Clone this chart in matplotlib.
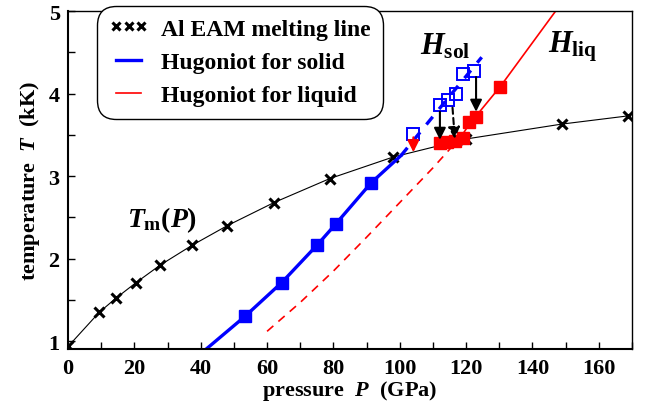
import numpy as np
import matplotlib
matplotlib.use('Agg')
import matplotlib.pyplot as plt
from matplotlib.lines import Line2D
from matplotlib.ticker import MultipleLocator

plt.rcParams['font.family'] = 'Liberation Serif'
plt.rcParams['font.weight'] = 'bold'
plt.rcParams['axes.labelweight'] = 'bold'
plt.rcParams['mathtext.fontset'] = 'custom'
plt.rcParams['mathtext.rm'] = 'Liberation Serif:bold'
plt.rcParams['mathtext.it'] = 'Liberation Serif:bold:italic'
plt.rcParams['mathtext.bf'] = 'Liberation Serif:bold'

# melting line (EAM), P in GPa, T in kK
melt_P = [0.1, 9.4, 14.4, 20.5, 27.7, 37.3, 48.0, 62.1, 78.9, 97.9, 120.0, 148.8, 168.9]
melt_T = [0.94, 1.35, 1.52, 1.71, 1.92, 2.16, 2.40, 2.68, 2.97, 3.23, 3.45, 3.63, 3.73]

# Hugoniot for solid
sol_line_P = [41.5, 53.3, 64.4, 75.2, 80.7, 91.4, 100.4]
sol_line_T = [0.90, 1.30, 1.71, 2.17, 2.42, 2.92, 3.25]
sol_dash_P = [100.4, 112.0, 124.7]
sol_dash_T = [3.25, 3.82, 4.44]
sol_pts_P = [53.3, 64.4, 75.2, 80.7, 91.4]
sol_pts_T = [1.30, 1.71, 2.17, 2.42, 2.92]
sol_open_P = [104.1, 112.1, 114.6, 117.1, 119.1, 122.4]
sol_open_T = [3.51, 3.86, 3.92, 4.00, 4.24, 4.27]

# Hugoniot for liquid
liq_dash_P = [60, 70, 80, 90, 100, 110, 118.5]
liq_dash_T = [1.12, 1.47, 1.85, 2.26, 2.68, 3.10, 3.48]
liq_line_P = [118.5, 121.0, 130.4, 147.0]
liq_line_T = [3.48, 3.63, 4.09, 5.0]
liq_pts_P = [112.1, 114.3, 116.8, 119.0, 120.9, 123.0, 130.3]
liq_pts_T = [3.40, 3.41, 3.42, 3.46, 3.65, 3.72, 4.08]

# arrows: (P_start, T_start, P_end, T_end)
arrows_black = [(112.1, 3.78, 112.1, 3.44), (123.0, 4.20, 123.0, 3.78)]
arrow_black_dash = (115.9, 3.83, 116.6, 3.45)
arrow_red = (104.1, 3.47, 104.1, 3.29)

fig = plt.figure(figsize=(6.46, 4.14), dpi=100)
ax = fig.add_axes([0.1053, 0.1534, 0.873, 0.8176])

ax.plot(melt_P, melt_T, color='black', lw=0.8)
ax.plot(melt_P, melt_T, ls='none', marker='x', ms=7, mew=2.2, color='black')

ax.plot(liq_dash_P, liq_dash_T, color='red', lw=1.2, dashes=(5, 4))
ax.plot(liq_line_P, liq_line_T, color='red', lw=1.2)
ax.plot(sol_line_P, sol_line_T, color='blue', lw=2.4)
ax.plot(sol_dash_P, sol_dash_T, color='blue', lw=2.4, dashes=(3, 3))

ax.plot(sol_pts_P, sol_pts_T, ls='none', marker='s', ms=9, color='blue')
ax.plot(liq_pts_P, liq_pts_T, ls='none', marker='s', ms=8.5, color='red')
ax.plot(sol_open_P, sol_open_T, ls='none', marker='s', ms=9, mfc='none',
        mec='blue', mew=1.4)

astyle = '-|>,head_length=0.7,head_width=0.35'
for x0, y0, x1, y1 in arrows_black:
    ax.annotate('', xy=(x1, y1), xytext=(x0, y0),
                arrowprops=dict(arrowstyle=astyle, color='black', lw=1.5,
                                shrinkA=0, shrinkB=0))
x0, y0, x1, y1 = arrow_black_dash
ax.annotate('', xy=(x1, y1), xytext=(x0, y0),
            arrowprops=dict(arrowstyle=astyle, color='black', lw=1.5,
                            ls=(0, (3, 2)), shrinkA=0, shrinkB=0))
x0, y0, x1, y1 = arrow_red
ax.annotate('', xy=(x1, y1), xytext=(x0, y0),
            arrowprops=dict(arrowstyle=astyle, color='red', lw=1.5,
                            shrinkA=0, shrinkB=0))

ax.text(28.3, 2.48, r'$T_{\mathrm{m}}(P)$', fontsize=20, ha='center', va='center')
ax.text(106.0, 4.58, r'$H_{\mathrm{sol}}$', fontsize=22, ha='left', va='center')
ax.text(144.6, 4.58, r'$H_{\mathrm{liq}}$', fontsize=22, ha='left', va='center')

ax.set_xlim(0, 170)
ax.set_ylim(0.9, 5.0)
ax.xaxis.set_major_locator(MultipleLocator(20))
ax.xaxis.set_minor_locator(MultipleLocator(10))
ax.yaxis.set_major_locator(MultipleLocator(1))
ax.yaxis.set_minor_locator(MultipleLocator(0.5))
ax.tick_params(which='both', direction='in', top=False, right=False,
               labelsize=16, width=1.0)
ax.tick_params(which='major', length=5)
ax.tick_params(which='minor', length=5)
ax.tick_params(axis='x', pad=6)
ax.tick_params(axis='y', pad=6)
for s in ax.spines.values():
    s.set_linewidth(1.0)
ax.spines['bottom'].set_linewidth(1.5)
ax.spines['left'].set_linewidth(1.5)

ax.set_xlabel(r'pressure  $P$  (GPa)', fontsize=16, labelpad=0)
ax.set_ylabel(r'temperature  $T$  (kK)', fontsize=16, labelpad=5)

handles = [Line2D([], [], ls='none', marker='x', ms=6, mew=2.2, color='black'),
           Line2D([], [], color='blue', lw=2.4),
           Line2D([], [], color='red', lw=1.2)]
labels = ['Al EAM melting line', 'Hugoniot for solid', 'Hugoniot for liquid']
leg = ax.legend(handles, labels, loc='upper left', bbox_to_anchor=(0.0557, 1.008),
                borderaxespad=0, numpoints=3, handlelength=1.65, handletextpad=0.55,
                labelspacing=0.5, fontsize=17, fancybox=True, framealpha=1,
                edgecolor='black', borderpad=0.42)
leg.get_frame().set_linewidth(1.0)
leg.get_frame().set_boxstyle('round,pad=0.1,rounding_size=0.8')

fig.savefig('out.png', dpi=100)
